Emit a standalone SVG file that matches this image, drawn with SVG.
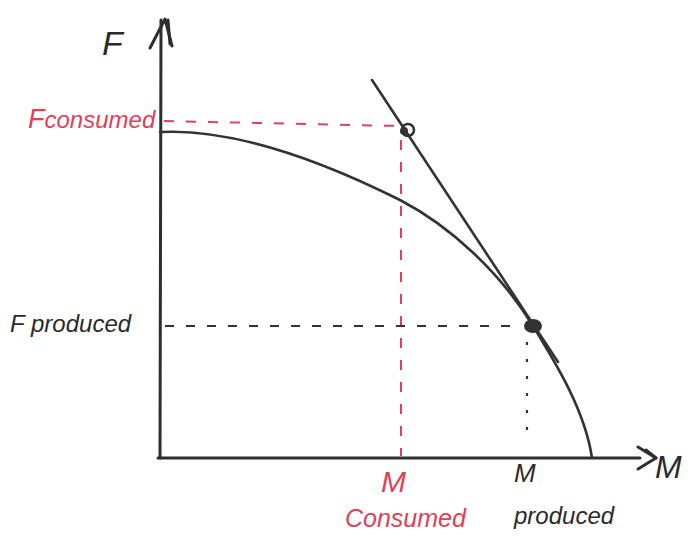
<svg xmlns="http://www.w3.org/2000/svg" width="698" height="539" viewBox="0 0 698 539">
<style>
.ax{fill:none;stroke:#2e2e2e;stroke-width:3;stroke-linecap:round;stroke-linejoin:round}
.crv{fill:none;stroke:#333;stroke-width:2.6;stroke-linecap:round}
.rd{fill:none;stroke:#e0415a;stroke-width:2;stroke-dasharray:10 12}
.bd{fill:none;stroke:#333;stroke-width:2;stroke-dasharray:9 12}
.bdot{fill:none;stroke:#333;stroke-width:2.2;stroke-dasharray:3 14}
.t{font-family:"Liberation Sans",Arial,sans-serif;font-style:italic;fill:#2b2b2b}
.r{fill:#e0415a}
</style>
<rect width="698" height="539" fill="#ffffff"/>
<g id="axes">
<path class="ax" d="M160,458 L161,20"/>
<path class="ax" d="M150,48 L165,19 L172,46"/>
<path class="ax" d="M168,20 L170,44"/>
<path class="ax" d="M158,458 L640,458"/>
<path class="ax" d="M638,447 L656,458 L638,469"/>
<path class="ax" d="M646,450 L656,458"/>
</g>
<g id="connectors">
<path class="rd" d="M164,121 L400,126"/>
<path class="rd" d="M401,140 L401,456"/>
<path class="bd" d="M165,326 L522,326"/>
<path class="bdot" d="M527,342 L527,440"/>
</g>
<g id="ppf">
<path class="crv" d="M160,132 C240,128 330,165 400,200 C450,226 500,272 533,326 C555,362 585,410 592,458"/>
</g>
<g id="tangent">
<path class="crv" d="M372,80 L558,362"/>
</g>
<g id="consumption-point">
<circle cx="408" cy="130" r="6" fill="none" stroke="#333" stroke-width="2.5"/>
<circle cx="404" cy="131" r="4" fill="#333"/>
</g>
<g id="production-point">
<ellipse cx="533" cy="326" rx="9" ry="7" fill="#333"/>
</g>
<g id="labels">
<text class="t" x="102" y="55" font-size="34">F</text>
<text class="t" x="655" y="478" font-size="32">M</text>
<text class="t r" x="28" y="128" font-size="27">F<tspan font-size="24">consumed</tspan></text>
<text class="t" x="10" y="332" font-size="24">F</text>
<text class="t" x="31" y="332" font-size="24">produced</text>
<text class="t r" x="381" y="492" font-size="30">M</text>
<text class="t r" x="345" y="527" font-size="25">Consumed</text>
<text class="t" x="514" y="482" font-size="26">M</text>
<text class="t" x="514" y="524" font-size="24">produced</text>
</g>
</svg>
